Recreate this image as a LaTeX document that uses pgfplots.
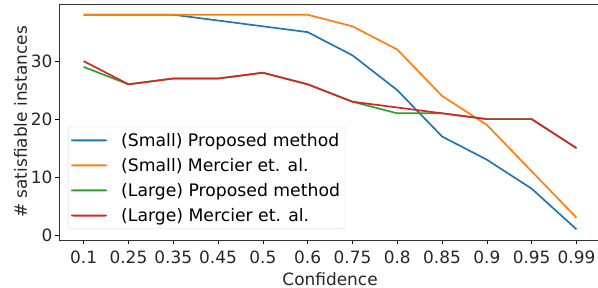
\documentclass[border=0pt]{standalone}
\usepackage{pgfplots}
\pgfplotsset{compat=1.18}
\usepackage{fontspec}
\setmainfont{DejaVu Sans}
\usetikzlibrary{calc}
\definecolor{tabblue}{HTML}{1F77B4}
\definecolor{taborange}{HTML}{FF7F0E}
\definecolor{tabgreen}{HTML}{2CA02C}
\definecolor{tabred}{HTML}{D62728}
\pgfplotstableread{
x blue orange green red
0 38 38 29 30
1 38 38 26 26
2 38 38 27 27
3 37 38 27 27
4 36 38 28 28
5 35 38 26 26
6 31 36 23 23
7 25 32 21 22
8 17 24 21 21
9 13 19 20 20
10 8 11 20 20
11 1 3 15 15
}\datatable
\begin{document}
\begin{tikzpicture}
\begin{axis}[
  name=ax,
  scale only axis,
  width=542.1bp, height=236bp,
  xmin=-0.55, xmax=11.55,
  ymin=-0.85, ymax=39.85,
  xtick={0,...,11},
  xticklabels={0.1,0.25,0.35,0.45,0.5,0.6,0.75,0.8,0.85,0.9,0.95,0.99},
  ytick={0,10,20,30},
  tick align=outside,
  tick style={black, line width=0.6pt},
  major tick length=4bp,
  xtick pos=bottom, ytick pos=left,
  axis line style={black!80, line width=0.6pt},
  /pgf/number format/assume math mode=true,
  ticklabel style={font=\fontsize{17}{19}\selectfont, text=black!85},
  label style={font=\fontsize{17}{19}\selectfont, text=black!85},
  xticklabel style={yshift=-3bp},
  yticklabel style={xshift=1bp},
  xlabel={Confidence},
  ylabel={\# satisfiable instances},
  xlabel style={yshift=-2bp},
  ylabel style={yshift=-3bp},
  legend style={
    at={(9bp,11bp)}, anchor=south west,
    font=\fontsize{17.3}{19}\selectfont,
    draw=black!15, rounded corners=2pt,
    fill=white,
    row sep=6.5bp, inner xsep=3bp, inner ysep=4bp
  },
  legend cell align=left,
  legend image code/.code={\fill[#1, draw=none] (0bp,-1bp) rectangle (36bp,1bp); \path[draw=none] (0,0) -- (48bp,0);},
  every axis plot/.append style={line width=1.7pt},
  clip=true,
]
\addplot[tabblue] table[x=x,y=blue] {\datatable};
\addlegendentry{(Small) Proposed method}
\addplot[taborange] table[x=x,y=orange] {\datatable};
\addlegendentry{(Small) Mercier et. al.}
\addplot[tabgreen] table[x=x,y=green] {\datatable};
\addlegendentry{(Large) Proposed method}
\addplot[tabred] table[x=x,y=red] {\datatable};
\addlegendentry{(Large) Mercier et. al.}
\end{axis}
\pgfresetboundingbox
\path ([xshift=-59bp,yshift=-48bp]ax.south west) rectangle ([xshift=-3.1bp,yshift=4bp]ax.north east);
\end{tikzpicture}
\end{document}
